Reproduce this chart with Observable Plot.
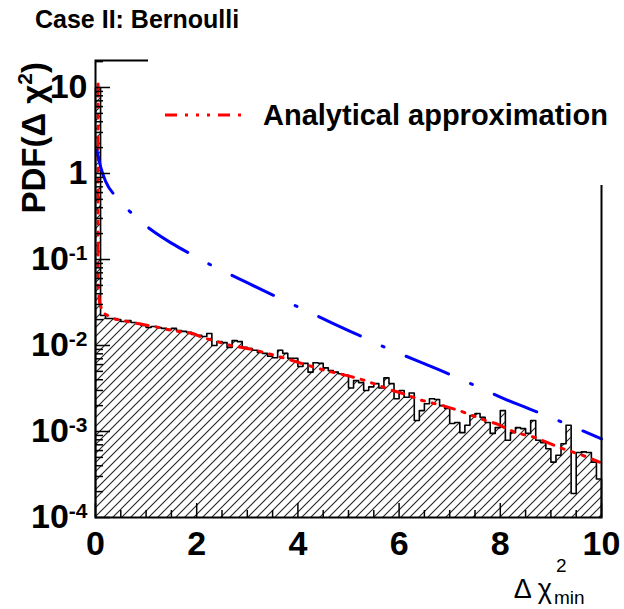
<!DOCTYPE html>
<html><head><meta charset="utf-8">
<script src="https://cdn.jsdelivr.net/npm/d3@7"></script>
<script src="https://cdn.jsdelivr.net/npm/@observablehq/plot@0.6"></script>
<style>
body{margin:0;background:#fff;}
svg{font-family:"Liberation Sans",Arial,Helvetica,sans-serif;}
</style></head><body><div id="chart"></div>
<script>
// ---- data ----
const titleText = "Case II: Bernoulli";
const legendLabel = "Analytical approximation";
const binWidth = 0.1;
const histValues = [
 10, 0.0223, 0.0206, 0.0206, 0.0200, 0.0190, 0.0195, 0.0185, 0.0180, 0.0171,
 0.0162, 0.0166, 0.0162, 0.0158, 0.0153, 0.0158, 0.0149, 0.0146, 0.0142, 0.0134,
 0.0131, 0.0127, 0.0138, 0.0100, 0.0111, 0.0108, 0.0095, 0.0114, 0.0111, 0.0095,
 0.0092, 0.0088, 0.0083, 0.0081, 0.0075, 0.0072, 0.0088, 0.0081, 0.0071, 0.0071,
 0.0057, 0.0062, 0.0049, 0.0063, 0.0062, 0.0055, 0.0051, 0.0049, 0.0047, 0.0045,
 0.0032, 0.0039, 0.0037, 0.0030, 0.0033, 0.0036, 0.0032, 0.0042, 0.0036, 0.0024,
 0.0030, 0.0025, 0.0028, 0.00134, 0.00175, 0.0021, 0.0024, 0.00236, 0.0020, 0.00185,
 0.00124, 0.00127, 0.00097, 0.00118, 0.00153, 0.00162, 0.00146, 0.00127, 0.00095, 0.00111,
 0.00175, 0.00079, 0.00097, 0.00111, 0.00108, 0.00095, 0.00134, 0.00079, 0.00074, 0.00063,
 0.00044, 0.00053, 0.00072, 0.00118, 0.00019, 0.00057, 0.00058, 0.00057, 0.00044, 0.00028
];
const analyticX = [0.05, 0.05, 0.08, 0.14, 0.34, 0.73, 1.26, 1.52, 1.92, 2.11, 2.47, 2.67, 3.10, 3.40, 3.89, 4.03, 4.55, 5.02, 5.34, 5.87, 6.01, 6.46, 6.86, 7.19, 7.71, 7.91, 8.30, 8.70, 9.17, 9.62, 9.96];
const analyticY = [11, 0.05, 0.0316, 0.0242, 0.0206, 0.0185, 0.0162, 0.0149, 0.0138, 0.0124, 0.0108, 0.0100, 0.0090, 0.0081, 0.0067, 0.0063, 0.0051, 0.0044, 0.0039, 0.0030, 0.00284, 0.00229, 0.0020, 0.00175, 0.00134, 0.00124, 0.00097, 0.00085, 0.00065, 0.00053, 0.00044];
const chi2X = [0.03, 0.1, 0.2, 0.4, 0.72, 1.12, 1.5, 1.94, 2.37, 2.83, 3.2, 3.66, 4.15, 4.7, 5.3, 5.81, 6.29, 6.76, 7.2, 7.61, 8.08, 8.56, 9.0, 9.43, 10.0];
const chi2Y = [1.85, 1.2, 0.81, 0.54, 0.343, 0.217, 0.155, 0.111, 0.081, 0.060, 0.047, 0.035, 0.0256, 0.0180, 0.0124, 0.0090, 0.0069, 0.0053, 0.0041, 0.0032, 0.0024, 0.00185, 0.00145, 0.00114, 0.00082];
const xMajorTicks = [0, 2, 4, 6, 8, 10];
const xMinorTicks = [0.5, 1, 1.5, 2.5, 3, 3.5, 4.5, 5, 5.5, 6.5, 7, 7.5, 8.5, 9, 9.5];
const yMajorTicks = [1e-4, 1e-3, 1e-2, 1e-1, 1, 10];
const yMinorMultipliers = [2, 3, 4, 5, 6, 7, 8, 9];
const xDomain = [0, 10];
const yDomain = [1e-4, 20.6];

// ---- derived tables ----
const yFloor = yDomain[0];
const outline = [{x: 0, y: yFloor}];
histValues.forEach((v, i) => {
  outline.push({x: i * binWidth, y: v});
  outline.push({x: (i + 1) * binWidth, y: v});
});
outline.push({x: histValues.length * binWidth, y: yFloor});
const analytic = analyticX.map((x, i) => ({x, y: analyticY[i]}));
const chi2 = chi2X.map((x, i) => ({x, y: chi2Y[i]}));
const yMinorTicks = yMajorTicks.flatMap(d => yMinorMultipliers.map(m => m * d)).filter(v => v < yDomain[1]);

const W = 624, H = 609, mL = 95, mR = 23, mT = 60, mB = 92;
const frameW = W - mL - mR, frameH = H - mT - mB;
const redDash = "12,8,3,8,3,8,3,8";

const yFormat = d => {
  const e = Math.round(Math.log10(d));
  return e === 0 ? "1" : e === 1 ? "10" : "10^" + e;
};

const plot = Plot.plot({
  width: W, height: H,
  marginLeft: mL, marginRight: mR, marginTop: mT, marginBottom: mB,
  x: {domain: xDomain, label: null},
  y: {type: "log", domain: yDomain, label: null},
  style: {background: "white", fontFamily: "Liberation Sans, Arial, sans-serif"},
  marks: [
    Plot.area(outline, {x1: "x", y1: yFloor, y2: "y", fill: "url(#hatch)"}),
    Plot.line(outline, {x: "x", y: "y", stroke: "black", strokeWidth: 1.6}),
    Plot.line(analytic, {x: "x", y: "y", stroke: "#ff0000", strokeWidth: 3, strokeDasharray: redDash}),
    Plot.line(chi2, {x: "x", y: "y", stroke: "#0000ff", strokeWidth: 3, strokeDasharray: "46,24,2,24", curve: "monotone-x"}),
    Plot.frame({stroke: "black", strokeWidth: 2}),
    Plot.tickX(xMajorTicks, {x: d => d, insetTop: frameH - 14, stroke: "black", strokeWidth: 1.5}),
    Plot.tickX(xMinorTicks, {x: d => d, insetTop: frameH - 7, stroke: "black", strokeWidth: 1.5}),
    Plot.tickY(yMajorTicks, {y: d => d, insetRight: frameW - 15, stroke: "black", strokeWidth: 1.5}),
    Plot.tickY(yMinorTicks, {y: d => d, insetRight: frameW - 8, stroke: "black", strokeWidth: 1.5}),
    Plot.axisX({ticks: xMajorTicks, tickSize: 0, tickPadding: 13, fontSize: 34, fontWeight: "bold", label: null}),
    Plot.axisY({ticks: yMajorTicks, tickSize: 0, tickPadding: 8, fontSize: 34, fontWeight: "bold", tickFormat: yFormat, label: null})
  ]
});
document.getElementById("chart").appendChild(plot);

// ---- decorations ----
const svg = d3.select(plot);
const defs = svg.insert("defs", ":first-child");
const pat = defs.append("pattern").attr("id", "hatch").attr("patternUnits", "userSpaceOnUse")
  .attr("width", 9).attr("height", 9);
pat.append("path").attr("d", "M-1,1 L1,-1 M0,9 L9,0 M8,10 L10,8")
  .attr("stroke", "#222").attr("stroke-width", 1.1).attr("fill", "none");

// superscripts on y tick labels
svg.selectAll('g[aria-label="y-axis tick label"] text').each(function () {
  const t = this.textContent;
  if (t.includes("^")) {
    const [b, e] = t.split("^");
    this.textContent = b;
    d3.select(this).append("tspan").attr("dy", "-0.5em").attr("font-size", 21).text(e);
  }
});

const addText = (x, y, size, weight, anchor, str) =>
  svg.append("text").attr("x", x).attr("y", y).attr("font-size", size).attr("font-weight", weight)
    .attr("text-anchor", anchor).attr("fill", "black").text(str);

// legend box (white, covers frame corner)
svg.append("rect").attr("x", 148).attr("y", 45).attr("width", 470).attr("height", 140).attr("fill", "white");
svg.append("line").attr("x1", 165).attr("x2", 243).attr("y1", 115).attr("y2", 115)
  .attr("stroke", "#ff0000").attr("stroke-width", 3).attr("stroke-dasharray", redDash);
addText(263, 125, 29, "bold", "start", legendLabel);

// title
addText(35, 28, 25, "bold", "start", titleText);

// y axis label
const yl = svg.append("text").attr("transform", "translate(45,62) rotate(-90)")
  .attr("text-anchor", "end").attr("font-size", 33).attr("font-weight", "bold").attr("fill", "black");
yl.append("tspan").text("PDF(\u0394 \u03c7");
yl.append("tspan").attr("dy", -13).attr("font-size", 21).text("2");
yl.append("tspan").attr("dy", 13).text(")");

// x axis label
addText(552, 598, 27, "normal", "end", "\u0394 \u03c7");
addText(556, 572, 19, "normal", "start", "2");
addText(554, 604, 19, "normal", "start", "min");
</script></body></html>
